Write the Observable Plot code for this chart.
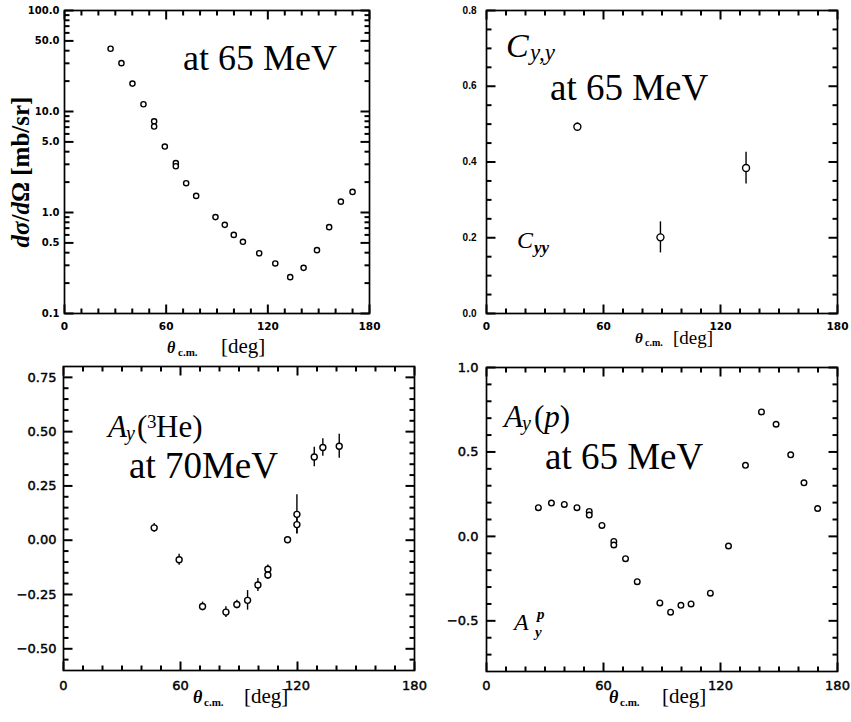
<!DOCTYPE html>
<html><head><meta charset="utf-8">
<script src="https://cdn.jsdelivr.net/npm/d3@7"></script>
<script src="https://cdn.jsdelivr.net/npm/@observablehq/plot@0.6"></script>
<style>
body{margin:0;background:#fff;}
#wrap{position:relative;width:851px;height:722px;overflow:hidden;background:#fff;}
#wrap svg{position:absolute;}
#ann text{font-family:"Liberation Serif","Times New Roman",serif;fill:#000;}
</style></head><body>
<div id="wrap">
<svg id="ann" width="851" height="722" style="left:0;top:0;z-index:5;pointer-events:none">
  <!-- panel 1 -->
  <text x="183" y="70" font-size="36">at 65 MeV</text>
  <text transform="translate(29,172) rotate(-90)" text-anchor="middle" font-size="25" font-weight="bold"><tspan font-style="italic">dσ</tspan>/<tspan font-style="italic">d</tspan>Ω [mb/sr]</text>
  <text x="167" y="353" font-size="16" font-style="italic" font-weight="bold">θ</text>
  <text x="178" y="356" font-size="11" font-weight="bold">c.m.</text>
  <text x="221" y="353" font-size="21">[deg]</text>
  <!-- panel 2 -->
  <text x="506" y="57" font-size="34" font-style="italic">C</text>
  <text x="530" y="60" font-size="23" font-style="italic">y,y</text>
  <text x="550" y="100" font-size="37">at 65 MeV</text>
  <text x="517" y="248" font-size="24" font-style="italic">C</text>
  <text x="534" y="253" font-size="17" font-style="italic" font-weight="bold">yy</text>
  <text x="635" y="343" font-size="15" font-style="italic" font-weight="bold">θ</text>
  <text x="645" y="346" font-size="10" font-weight="bold">c.m.</text>
  <text x="673" y="344" font-size="19">[deg]</text>
  <!-- panel 3 -->
  <text x="108" y="437" font-size="31" font-style="italic">A</text>
  <text x="126" y="440" font-size="20" font-style="italic">y</text>
  <text x="137" y="437" font-size="31">(</text>
  <text x="147" y="428" font-size="19">3</text>
  <text x="156" y="437" font-size="31">He)</text>
  <text x="129" y="478" font-size="37">at 70MeV</text>
  <text x="193" y="703" font-size="18" font-style="italic" font-weight="bold">θ</text>
  <text x="204" y="706" font-size="11" font-weight="bold">c.m.</text>
  <text x="244" y="703" font-size="21">[deg]</text>
  <!-- panel 4 -->
  <text x="504" y="427" font-size="31" font-style="italic">A</text>
  <text x="522" y="430" font-size="20" font-style="italic">y</text>
  <text x="534" y="427" font-size="31">(<tspan font-style="italic">p</tspan>)</text>
  <text x="545" y="469" font-size="37">at 65 MeV</text>
  <text x="514" y="630" font-size="24" font-style="italic">A</text>
  <text x="537" y="619" font-size="15" font-style="italic" font-weight="bold">p</text>
  <text x="535" y="637" font-size="15" font-style="italic" font-weight="bold">y</text>
  <text x="609" y="703" font-size="18" font-style="italic" font-weight="bold">θ</text>
  <text x="620" y="706" font-size="11" font-weight="bold">c.m.</text>
  <text x="662" y="703" font-size="21">[deg]</text>
</svg>
</div>
<script>
// ---------- data ----------
// Panel 1: differential cross section dσ/dΩ [mb/sr] at 65 MeV
const theta1 = [27.2, 33.6, 40.1, 46.6, 52.9, 52.9, 59.2, 65.7, 65.7, 71.8, 77.7, 89.1, 94.6, 99.9, 105.3, 114.9, 124.4, 133.2, 141.1, 149.0, 156.2, 163.1, 170.0];
const sigma1 = [41.8, 30.1, 18.9, 11.8, 8.0, 7.1, 4.5, 3.08, 2.87, 1.95, 1.46, 0.90, 0.755, 0.60, 0.513, 0.395, 0.313, 0.229, 0.283, 0.424, 0.716, 1.28, 1.60];
// Panel 2: Cyy at 65 MeV
const theta2 = [46.6, 89.2, 133.1];
const cyy2 = [0.493, 0.201, 0.384];
const err2 = [0.01, 0.041, 0.042];
// Panel 3: Ay(3He) at 70 MeV
const theta3 = [46.5, 59.3, 71.3, 83.3, 88.9, 94.4, 99.7, 104.8, 104.8, 114.9, 119.7, 119.7, 128.6, 133.0, 141.4];
const ay3 = [0.057, -0.09, -0.305, -0.331, -0.296, -0.277, -0.206, -0.134, -0.16, 0.002, 0.072, 0.119, 0.383, 0.427, 0.433];
const err3 = [0.02, 0.025, 0.02, 0.025, 0.02, 0.045, 0.03, 0.02, 0.02, 0.01, 0.042, 0.09, 0.045, 0.04, 0.055];
// Panel 4: Ay(p) at 65 MeV
const theta4 = [26.6, 33.3, 39.9, 46.4, 52.7, 52.7, 59.2, 65.3, 65.3, 71.3, 77.3, 88.9, 94.4, 99.7, 104.9, 114.8, 124.1, 132.8, 141.0, 148.5, 156.0, 162.8, 169.8];
const ayp4 = [0.17, 0.197, 0.189, 0.17, 0.148, 0.126, 0.065, -0.03, -0.051, -0.132, -0.268, -0.394, -0.449, -0.408, -0.40, -0.336, -0.057, 0.421, 0.737, 0.664, 0.483, 0.317, 0.165];

// tick values / labels
const xMajor = [0, 60, 120, 180];
const xMinor = [10, 20, 30, 40, 50, 70, 80, 90, 100, 110, 130, 140, 150, 160, 170];
const y1Major = [0.1, 0.5, 1, 5, 10, 50, 100];
const y1Minor = [0.2, 0.3, 0.4, 0.6, 0.7, 0.8, 0.9, 2, 3, 4, 6, 7, 8, 9, 20, 30, 40, 60, 70, 80, 90];
const y2Major = [0, 0.2, 0.4, 0.6, 0.8];
const y2Minor = [0.05, 0.1, 0.15, 0.25, 0.3, 0.35, 0.45, 0.5, 0.55, 0.65, 0.7, 0.75];
const y3Major = [-0.5, -0.25, 0, 0.25, 0.5, 0.75];
const y3Minor = [-0.55, -0.45, -0.4, -0.35, -0.3, -0.2, -0.15, -0.1, -0.05, 0.05, 0.1, 0.15, 0.2, 0.3, 0.35, 0.4, 0.45, 0.55, 0.6, 0.65, 0.7];
const y4Major = [-0.5, 0, 0.5, 1.0];
const y4Minor = [-0.7, -0.6, -0.4, -0.3, -0.2, -0.1, 0.1, 0.2, 0.3, 0.4, 0.6, 0.7, 0.8, 0.9];

const fmtMinus = (s) => s.replace("-", "\u2212");

function panel(o) {
  const data = o.xs.map((x, i) => ({x, y: o.ys[i], e: o.es ? o.es[i] : 0}));
  const pw = o.width - o.m[1] - o.m[3];
  const ph = o.height - o.m[0] - o.m[2];
  const [lo, hi] = o.yDomain;
  const isLog = o.yType === "log";
  // tick lengths converted from pixels into data units through the scale's extent
  const xLen = (px) => 180 * px / pw;
  const yBottom = (px) => isLog ? lo * Math.pow(hi / lo, px / ph) : lo + (hi - lo) * px / ph;
  const yTop = (px) => isLog ? hi / Math.pow(hi / lo, px / ph) : hi - (hi - lo) * px / ph;
  const marks = [Plot.frame({stroke: "black", fill: "none", strokeWidth: 1.7})];
  // tick labels
  marks.push(Plot.text(o.yMajor, {y: (d) => d, frameAnchor: "left", dx: -o.padY, textAnchor: "end",
    text: o.fmtY, fontSize: o.yFont.size, fontFamily: o.yFont.family, fontWeight: o.yFont.weight,
    fill: "black", stroke: o.yFont.stroke ? "black" : null, strokeWidth: o.yFont.stroke || 0}));
  marks.push(Plot.text(xMajor, {x: (d) => d, frameAnchor: "bottom", dy: o.padX, lineAnchor: "top",
    text: (d) => String(d), fontSize: o.xFont.size, fontFamily: o.xFont.family, fontWeight: o.xFont.weight,
    fill: "black", stroke: o.xFont.stroke ? "black" : null, strokeWidth: o.xFont.stroke || 0}));
  if (o.es) {
    marks.push(Plot.ruleX(data, {x: "x", y1: (d) => d.y - d.e, y2: (d) => d.y + d.e, stroke: "black", strokeWidth: 1.4}));
  }
  marks.push(Plot.dot(data, {x: "x", y: "y", r: o.r, stroke: "black", fill: "white", strokeWidth: 1.4}));
  // inward ticks on all four sides (drawn last)
  const tk = {stroke: "black", strokeWidth: 2};
  const yTicks = o.yMajor.map((v) => ({v, len: 9})).concat(o.yMinor.map((v) => ({v, len: 5})));
  const xTicks = xMajor.map((v) => ({v, len: 9})).concat(xMinor.map((v) => ({v, len: 5})));
  marks.push(Plot.link(yTicks, {...tk, x1: 0, x2: (d) => xLen(d.len), y1: "v", y2: "v"}));
  marks.push(Plot.link(yTicks, {...tk, x1: (d) => 180 - xLen(d.len), x2: 180, y1: "v", y2: "v"}));
  marks.push(Plot.link(xTicks, {...tk, x1: "v", x2: "v", y1: lo, y2: (d) => yBottom(d.len)}));
  marks.push(Plot.link(xTicks, {...tk, x1: "v", x2: "v", y1: (d) => yTop(d.len), y2: hi}));
  const svg = Plot.plot({
    width: o.width, height: o.height,
    marginTop: o.m[0], marginRight: o.m[1], marginBottom: o.m[2], marginLeft: o.m[3],
    style: {background: "transparent", overflow: "visible", color: "black"},
    x: {domain: [0, 180], axis: null},
    y: Object.assign({domain: o.yDomain, axis: null}, o.yType ? {type: o.yType} : {}),
    marks
  });
  svg.style.left = o.left + "px";
  svg.style.top = o.top + "px";
  document.getElementById("wrap").appendChild(svg);
}

const boldSans = {size: 10, family: "DejaVu Sans", weight: "bold"};
const midSans = {size: 13, family: "DejaVu Sans", weight: "normal", stroke: 0.45};

panel({left: 0, top: 0, width: 425, height: 360, m: [10, 56, 47, 64],
  xs: theta1, ys: sigma1, r: 2.6, yType: "log", yDomain: [0.1, 100],
  yMajor: y1Major, yMinor: y1Minor, fmtY: (d) => d.toFixed(1), padY: 5, padX: 9,
  yFont: boldSans, xFont: {size: 10.5, family: "DejaVu Sans", weight: "bold"}});

panel({left: 425, top: 0, width: 426, height: 360, m: [10, 14, 47, 61],
  xs: theta2, ys: cyy2, es: err2, r: 3.5, yDomain: [0, 0.8],
  yMajor: y2Major, yMinor: y2Minor, fmtY: (d) => d.toFixed(1), padY: 10, padX: 9,
  yFont: {size: 10, family: "Liberation Sans", weight: "bold"}, xFont: {size: 10.5, family: "DejaVu Sans", weight: "bold"}});

panel({left: 0, top: 360, width: 425, height: 362, m: [6, 11, 52, 63],
  xs: theta3, ys: ay3, es: err3, r: 3, yDomain: [-0.6, 0.8],
  yMajor: y3Major, yMinor: y3Minor, fmtY: (d) => fmtMinus(d.toFixed(2)), padY: 7, padX: 10,
  yFont: midSans, xFont: midSans});

panel({left: 425, top: 360, width: 426, height: 362, m: [7, 14, 51, 61],
  xs: theta4, ys: ayp4, r: 2.8, yDomain: [-0.8, 1.0],
  yMajor: y4Major, yMinor: y4Minor, fmtY: (d) => fmtMinus(d.toFixed(1)), padY: 8, padX: 9,
  yFont: midSans, xFont: midSans});
</script>
</body></html>
